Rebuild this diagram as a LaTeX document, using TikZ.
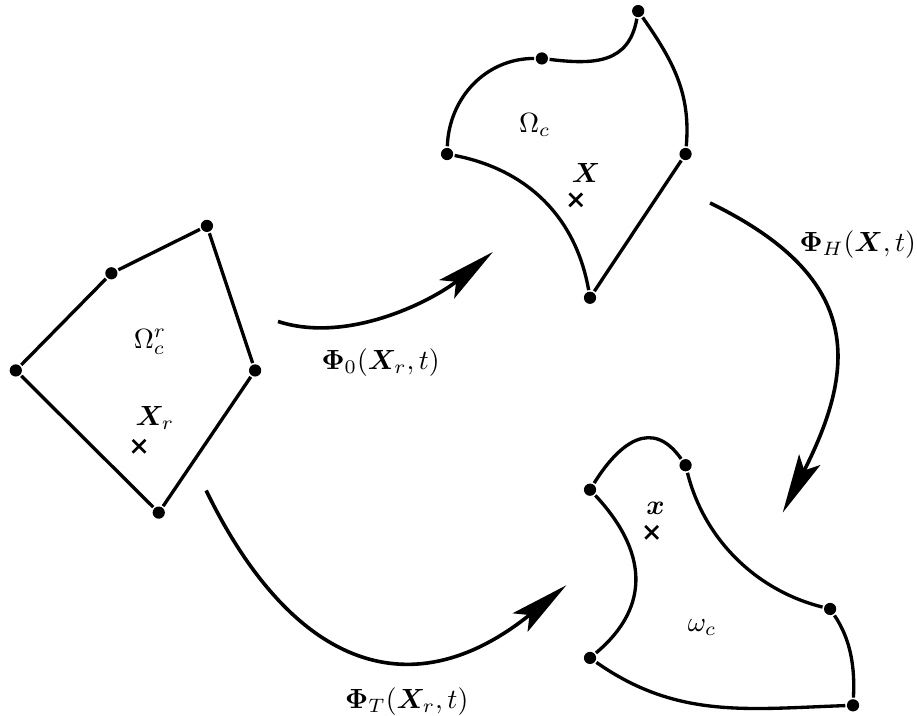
\documentclass[tikz,border=0pt]{standalone}
\usepackage{amsmath,bm}
\usetikzlibrary{arrows.meta,shapes.misc}
\begin{document}
\begin{tikzpicture}[>={Stealth[length=7.5mm,width=3mm,inset=1.5mm]},
        line width=1.2pt,
        vtx/.style={circle,fill,inner sep=0pt,minimum size=4.4pt},
        crosspt/.style={cross out,draw,inner sep=0pt,minimum size=3.6pt,line width=1pt}]
    \useasboundingbox (0,0) rectangle (11.61,9.06);
    % reference element
    \node[vtx] (r1) at (0.20,4.37) {};
    \node[vtx] (r2) at (1.41,5.60) {};
    \node[vtx] (r3) at (2.62,6.20) {};
    \node[vtx] (r4) at (3.23,4.37) {};
    \node[vtx] (r5) at (2.01,2.57) {};
    \draw (r1) -- (r2) -- (r3) -- (r4) -- (r5) -- (r1);
    \node (lr) at (1.90,4.73) {$\Omega_c^r$};
    \node (lxr) at (1.96,3.77) {$\bm{X}_r$};
    \node[crosspt] (xr) at (1.76,3.41) {};
    % initial configuration
    \node[vtx] (h1) at (5.66,7.11) {};
    \node[vtx] (h2) at (6.86,8.32) {};
    \node[vtx] (h3) at (8.08,8.92) {};
    \node[vtx] (h4) at (8.68,7.11) {};
    \node[vtx] (h5) at (7.47,5.29) {};
    \draw (h1) to[out=88,in=180] (h2);
    \draw (h2) to[out=-7,in=-100,looseness=1.2] (h3);
    \draw (h3) to[out=-55,in=85] (h4);
    \draw (h4) -- (h5);
    \draw (h5) to[out=100,in=-11] (h1);
    \node (lh) at (6.77,7.48) {$\Omega_c$};
    \node (lxh) at (7.42,6.87) {$\bm{X}$};
    \node[crosspt] (xh) at (7.29,6.53) {};
    % current configuration
    \node[vtx] (s1) at (7.47,2.86) {};
    \node[vtx] (s2) at (8.68,3.17) {};
    \node[vtx] (s3) at (10.51,1.35) {};
    \node[vtx] (s4) at (10.80,0.13) {};
    \node[vtx] (s5) at (7.47,0.73) {};
    \draw (s1) to[out=58,in=125,looseness=1.4] (s2);
    \draw (s2) to[out=-76,in=166,looseness=0.92] (s3);
    \draw (s3) to[out=-56,in=87,looseness=0.9] (s4);
    \draw (s4) to[out=182,in=-35] (s5);
    \draw (s5) to[out=40,in=-47,looseness=1.2] (s1);
    \node (ls) at (8.89,1.11) {$\omega_c$};
    \node (lxs) at (8.30,2.63) {$\bm{x}$};
    \node[crosspt] (xs) at (8.25,2.32) {};
    % mappings
    \coordinate (p0s) at (3.52,4.99);
    \coordinate (p0e) at (6.24,5.87);
    \coordinate (pHs) at (8.99,6.49);
    \coordinate (pHe) at (9.91,2.57);
    \coordinate (pTs) at (2.61,2.85);
    \coordinate (pTe) at (7.17,1.65);
    \draw[->,line width=1.3pt] (p0s) to[out=-18,in=-141,looseness=0.85] (p0e);
    \draw[->,line width=1.3pt] (pHs) to[out=-26,in=63,looseness=1.35] (pHe);
    \draw[->,line width=1.3pt] (pTs) .. controls (3.66,0.69) and (5.15,0.02) .. (pTe);
    \node (l0) at (4.82,4.47) {$\bm{\Phi}_0(\bm{X}_r,t)$};
    \node (lH) at (10.86,5.96) {$\bm{\Phi}_H(\bm{X},t)$};
    \node (lT) at (5.15,0.18) {$\bm{\Phi}_T(\bm{X}_r,t)$};
\end{tikzpicture}
\end{document}
